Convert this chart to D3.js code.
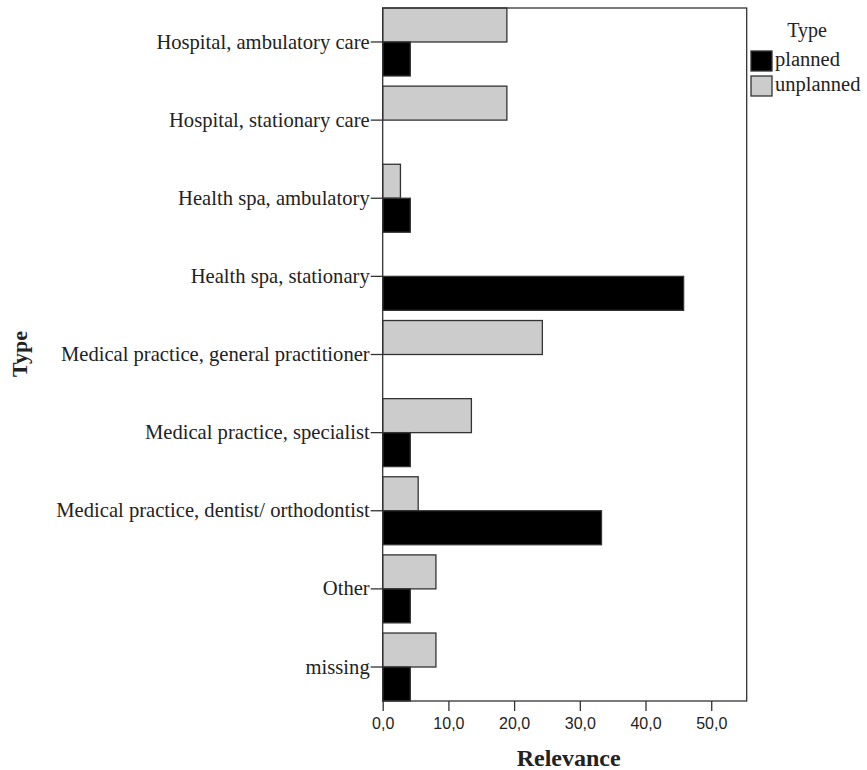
<!DOCTYPE html>
<html>
<head>
<meta charset="utf-8">
<script src="https://cdn.jsdelivr.net/npm/d3@7"></script>
<style>
  html, body { margin: 0; padding: 0; background: #ffffff; }
  svg { display: block; }
</style>
</head>
<body>
<svg id="chart" width="867" height="770"></svg>
<script>
const categories = [
  "Hospital, ambulatory care",
  "Hospital, stationary care",
  "Health spa, ambulatory",
  "Health spa, stationary",
  "Medical practice, general practitioner",
  "Medical practice, specialist",
  "Medical practice, dentist/ orthodontist",
  "Other",
  "missing"
];
const seriesNames = ["unplanned", "planned"];
const plannedValues   = [4.2, 0, 4.2, 45.8, 0, 4.2, 33.3, 4.2, 4.2];
const unplannedValues = [18.9, 18.9, 2.7, 0, 24.3, 13.5, 5.4, 8.1, 8.1];
const xTicks = [0, 10, 20, 30, 40, 50];
const xMax = 55.4;
const legendItems = ["planned", "unplanned"];

const colors = { planned: "#000000", unplanned: "#cccccc" };

const svg = d3.select("#chart");
const plot = { left: 382.7, right: 746.7, top: 8, bottom: 701 };

const x = d3.scaleLinear().domain([0, xMax]).range([plot.left, plot.right]);
const y = d3.scaleBand().domain(categories).range([plot.top, plot.bottom])
  .paddingInner(0.13).paddingOuter(0);
const ySub = d3.scaleBand().domain(seriesNames).range([0, y.bandwidth()]).padding(0);

const rows = categories.map((c, i) => ({
  cat: c,
  vals: [
    { key: "unplanned", v: unplannedValues[i] },
    { key: "planned", v: plannedValues[i] }
  ]
}));

// bars
const g = svg.append("g");
g.selectAll("g.row").data(rows).join("g")
  .attr("class", "row")
  .attr("transform", d => `translate(0,${y(d.cat)})`)
  .selectAll("rect").data(d => d.vals.filter(v => v.v > 0)).join("rect")
  .attr("x", x(0))
  .attr("y", d => ySub(d.key))
  .attr("width", d => x(d.v) - x(0))
  .attr("height", ySub.bandwidth())
  .attr("fill", d => colors[d.key])
  .attr("stroke", "#333")
  .attr("stroke-width", 1.3);

// frame
svg.append("rect")
  .attr("x", plot.left).attr("y", plot.top)
  .attr("width", plot.right - plot.left).attr("height", plot.bottom - plot.top)
  .attr("fill", "none").attr("stroke", "#333").attr("stroke-width", 1.3);

// y axis
const yAxis = svg.append("g")
  .attr("transform", `translate(${plot.left},0)`)
  .call(d3.axisLeft(y).tickSize(12).tickPadding(1));
yAxis.select(".domain").remove();
yAxis.selectAll(".tick line").attr("stroke", "#333").attr("stroke-width", 1.3);
yAxis.selectAll(".tick text")
  .attr("font-family", "'Liberation Serif', 'Times New Roman', serif")
  .attr("font-size", 20.6)
  .attr("fill", "#222");

// x axis
const xAxis = svg.append("g")
  .attr("transform", `translate(0,${plot.bottom})`)
  .call(d3.axisBottom(x).tickValues(xTicks).tickSize(10).tickPadding(7)
    .tickFormat(d => d3.format(".1f")(d).replace(".", ",")));
xAxis.select(".domain").remove();
xAxis.selectAll(".tick line").attr("stroke", "#333").attr("stroke-width", 1.3);
xAxis.selectAll(".tick text")
  .attr("font-family", "'Liberation Sans', Arial, sans-serif")
  .attr("font-size", 16)
  .attr("fill", "#222");

// axis titles
svg.append("text")
  .attr("x", (plot.left + plot.right) / 2 + 4)
  .attr("y", 766)
  .attr("text-anchor", "middle")
  .attr("font-family", "'Liberation Serif', 'Times New Roman', serif")
  .attr("font-weight", "bold")
  .attr("font-size", 24)
  .attr("fill", "#222")
  .text("Relevance");

svg.append("text")
  .attr("transform", "translate(27,354) rotate(-90)")
  .attr("text-anchor", "middle")
  .attr("font-family", "'Liberation Serif', 'Times New Roman', serif")
  .attr("font-weight", "bold")
  .attr("font-size", 22)
  .attr("fill", "#222")
  .text("Type");

// legend
const legend = svg.append("g");
legend.append("text")
  .attr("x", 807).attr("y", 37)
  .attr("text-anchor", "middle")
  .attr("font-family", "'Liberation Serif', 'Times New Roman', serif")
  .attr("font-size", 20)
  .attr("fill", "#222")
  .text("Type");
const li = legend.selectAll("g.item").data(legendItems).join("g")
  .attr("class", "item")
  .attr("transform", (d, i) => `translate(751,${51 + i * 25})`);
li.append("rect")
  .attr("width", 21).attr("height", 20)
  .attr("fill", d => colors[d])
  .attr("stroke", "#333").attr("stroke-width", 1.3);
li.append("text")
  .attr("x", 24).attr("y", 15)
  .attr("font-family", "'Liberation Serif', 'Times New Roman', serif")
  .attr("font-size", 20.5)
  .attr("fill", "#222")
  .text(d => d);
</script>
</body>
</html>
